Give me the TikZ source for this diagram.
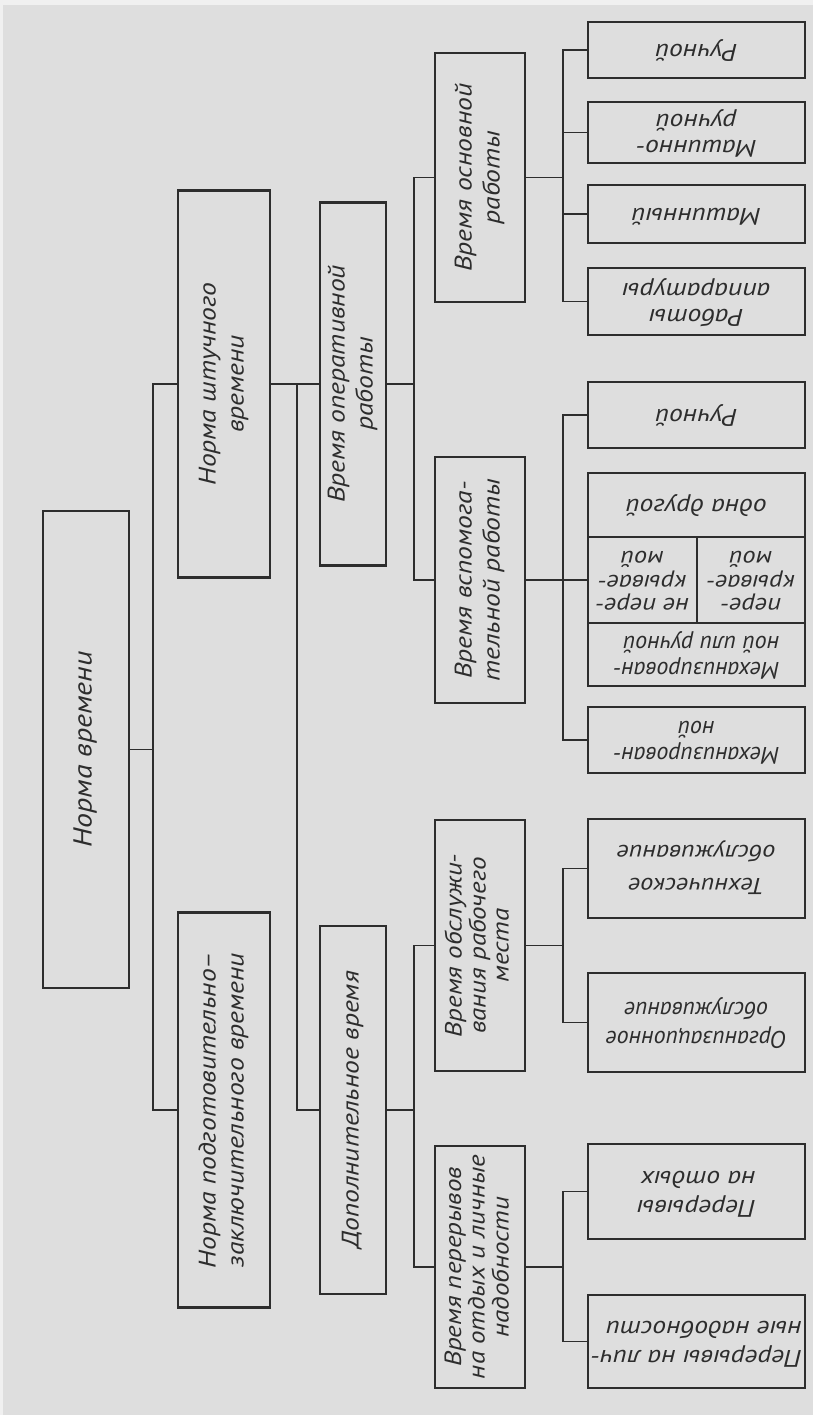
\documentclass[tikz,border=0pt]{standalone}
\usepackage{fontspec}
\setmainfont{PT Sans}
\newfontfamily\gost[FakeStretch=1.15]{PT Sans}
\newfontfamily\gostn{PT Sans}
\definecolor{paper}{RGB}{222,222,222}
\definecolor{ink}{RGB}{45,45,45}
\newcommand{\vtext}[2][c]{\rotatebox{90}{\begin{tabular}{@{}#1@{}}#2\end{tabular}}}
\newcommand{\utext}[2][c]{\rotatebox{180}{\begin{tabular}{@{}#1@{}}#2\end{tabular}}}
\tikzset{
  box/.style={draw=ink, line width=2.4pt, inner sep=0pt, text=ink,
    font=\gost\itshape\fontsize{24}{28}\selectfont},
  rootbox/.style={box, font=\gost\itshape\fontsize{26}{28}\selectfont},
  boxthree/.style={box, font=\gost\itshape\fontsize{23.5}{23}\selectfont},
  leaf/.style={box, minimum width=217, font=\gost\itshape\fontsize{24}{26}\selectfont},
  tallleaf/.style={leaf, font=\gost\itshape\fontsize{24}{29}\selectfont},
  techleaf/.style={leaf, font=\gost\itshape\fontsize{23}{33}\selectfont},
  narrowleaf/.style={leaf, font=\gostn\itshape\fontsize{24}{26}\selectfont},
  narrowtall/.style={leaf, font=\gostn\itshape\fontsize{24}{29}\selectfont},
  cellbox/.style={box, minimum height=86, font=\gost\itshape\fontsize{23}{23.5}\selectfont},
  conn/.style={draw=ink, line width=1.5pt}
}
\begin{document}
\begin{tikzpicture}[x=1pt,y=-1pt]
\fill[paper] (0,0) rectangle (813,1415);
\fill[white!55!paper] (0,0) rectangle (813,5);
\fill[white!55!paper] (0,0) rectangle (3,1415);
\useasboundingbox (0,0) rectangle (813,1415);

% level 0
\node[rootbox, minimum width=86, minimum height=477] (R) at (86,749.5) {\vtext{Норма времени}};
% level 1
\node[box, minimum width=92, minimum height=387] (N1) at (224,384) {\vtext{Норма штучного\\времени}};
\node[box, minimum width=92, minimum height=395] (N2) at (224,1110) {\vtext{Норма подготовительно–\\заключительного времени}};
% level 2
\node[box, minimum width=66, minimum height=363] (O) at (353,384) {\vtext{Время оперативной\\работы}};
\node[box, minimum width=66, minimum height=368] (D) at (353,1110) {\vtext{Дополнительное время}};
% level 3
\node[box, minimum width=90, minimum height=249] (B) at (480,177.5) {\vtext{Время основной\\работы}};
\node[box, minimum width=90, minimum height=246] (A) at (480,580) {\vtext{Время вспомога-\\тельной работы}};
\node[boxthree, minimum width=90, minimum height=251] (S) at (480,945.5) {\vtext{Время обслужи-\\вания рабочего\\места}};
\node[boxthree, minimum width=90, minimum height=242] (P) at (480,1267) {\vtext{Время перерывов\\на отдых и личные\\надобности}};
% level 4
\node[leaf, minimum height=56] (L1) at (696.5,50) {\utext{Ручной}};
\node[leaf, minimum height=61] (L2) at (696.5,132.5) {\utext{Машинно-\\ручной}};
\node[leaf, minimum height=58] (L3) at (696.5,214) {\utext{Машинный}};
\node[leaf, minimum height=67] (L4) at (696.5,301.5) {\utext{Работы\\аппаратуры}};
\node[leaf, minimum height=66] (L5) at (696.5,415) {\utext{Ручной}};
\node[leaf, minimum height=64] (C1) at (696.5,505) {\utext{одна другой}};
\node[cellbox, minimum width=109] (C2) at (642.5,580) {\utext{не пере-\\крывае-\\мой}};
\node[cellbox, minimum width=108] (C3) at (751,580) {\utext{пере-\\крывае-\\мой}};
\node[narrowleaf, minimum height=63] (C4) at (696.5,654.5) {\utext[l]{Механизирован-\\ной или ручной}};
\node[narrowleaf, minimum height=66] (L7) at (696.5,740) {\utext{Механизирован-\\ной}};
\node[techleaf, minimum height=99] (L8) at (696.5,868.5) {\utext{Техническое\\обслуживание}};
\node[narrowtall, minimum height=99] (L9) at (696.5,1022.5) {\utext{Организационное\\обслуживание}};
\node[tallleaf, minimum height=95] (L10) at (696.5,1191.5) {\utext[l]{Перерывы\\на отдых}};
\node[tallleaf, minimum height=93] (L11) at (696.5,1341.5) {\utext[l]{Перерывы на лич-\\ные надобности}};

% bus positions
\coordinate (x1) at (153,0);
\coordinate (x2) at (297,0);
\coordinate (x3) at (414,0);
\coordinate (x4) at (563,0);

% connectors
\draw[conn] (R.east) -- (R.east -| x1);
\draw[conn] (N1.west) -- (N1.west -| x1) -- (N2.west -| x1) -- (N2.west);
\draw[conn] (N1.east) -- (O.west);
\draw[conn] (N1.east -| x2) |- (D.west);
\draw[conn] (O.east) -- (O.east -| x3);
\draw[conn] (B.west) -- (B.west -| x3) -- (A.west -| x3) -- (A.west);
\draw[conn] (D.east) -- (D.east -| x3);
\draw[conn] (S.west) -- (S.west -| x3) -- (P.west -| x3) -- (P.west);
\draw[conn] (B.east) -- (B.east -| x4);
\draw[conn] (L1.west) -- (L1.west -| x4) -- (L4.west -| x4) -- (L4.west);
\draw[conn] (L2.west) -- (L2.west -| x4);
\draw[conn] (L3.west) -- (L3.west -| x4);
\draw[conn] (A.east) -- (A.east -| x4);
\draw[conn] (L5.west) -- (L5.west -| x4) -- (L7.west -| x4) -- (L7.west);
\draw[conn] (C2.west) -- (C2.west -| x4);
\draw[conn] (S.east) -- (S.east -| x4);
\draw[conn] (L8.west) -- (L8.west -| x4) -- (L9.west -| x4) -- (L9.west);
\draw[conn] (P.east) -- (P.east -| x4);
\draw[conn] (L10.west) -- (L10.west -| x4) -- (L11.west -| x4) -- (L11.west);
\end{tikzpicture}
\end{document}
